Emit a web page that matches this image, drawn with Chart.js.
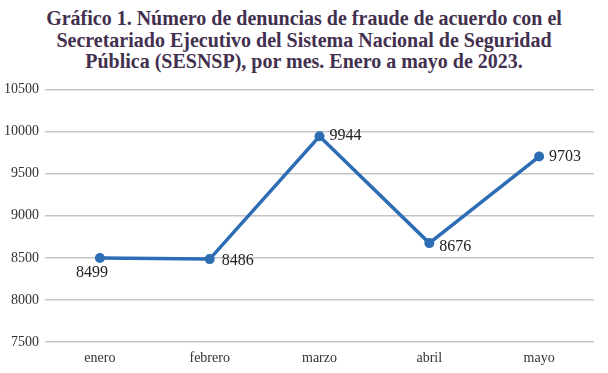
<!DOCTYPE html>
<html>
<head>
<meta charset="utf-8">
<script src="https://cdn.jsdelivr.net/npm/chart.js@4.4.1/dist/chart.umd.min.js"></script>
<style>
  html, body { margin: 0; padding: 0; background: #fff; }
  #title {
    width: 608px; height: 75px; box-sizing: border-box; padding-top: 8px;
    font: bold 20px/21.5px "Liberation Serif", "DejaVu Serif", serif;
    color: #43304f; text-align: center;
  }
  #wrap { width: 608px; height: 298px; position: relative; }
</style>
</head>
<body>
<div id="title"></div>
<div id="wrap"><canvas id="c"></canvas></div>
<script>
(function () {
    'use strict';

    var months = ['enero', 'febrero', 'marzo', 'abril', 'mayo'];
    var denuncias = [8499, 8486, 9944, 8676, 9703];
    var yTicks = [7500, 8000, 8500, 9000, 9500, 10000, 10500];
    var titleLines = [
        'Gráfico 1. Número de denuncias de fraude de acuerdo con el',
        'Secretariado Ejecutivo del Sistema Nacional de Seguridad',
        'Pública (SESNSP), por mes. Enero a mayo de 2023.'
    ];

    // where each value label sits relative to its point
    var labelSpots = [
        { dx: -8, dy: 15, align: 'center' },
        { dx: 12, dy: 2, align: 'left' },
        { dx: 10, dy: 0, align: 'left' },
        { dx: 10, dy: 4, align: 'left' },
        { dx: 10, dy: 0, align: 'left' }
    ];

    var serif = '"Liberation Serif", "DejaVu Serif", serif';

    var titleEl = document.getElementById('title');
    titleLines.forEach(function (line) {
        var d = document.createElement('div');
        d.textContent = line;
        titleEl.appendChild(d);
    });

    var valueLabels = {
        id: 'valueLabels',
        afterDatasetsDraw: function (chart) {
            var ctx = chart.ctx;
            var meta = chart.getDatasetMeta(0);
            ctx.save();
            ctx.font = '16px ' + serif;
            ctx.fillStyle = '#222';
            ctx.textBaseline = 'middle';
            meta.data.forEach(function (pt, i) {
                var s = labelSpots[i];
                ctx.textAlign = s.align;
                ctx.fillText(String(denuncias[i]), pt.x + s.dx, pt.y + s.dy);
            });
            ctx.restore();
        }
    };

    new Chart(document.getElementById('c'), {
        type: 'line',
        data: {
            labels: months,
            datasets: [{
                data: denuncias,
                borderColor: '#2c6db4',
                backgroundColor: '#2c6db4',
                borderWidth: 3.5,
                pointRadius: 5,
                pointBackgroundColor: '#2c6db4',
                pointBorderWidth: 0,
                tension: 0
            }]
        },
        options: {
            responsive: true,
            maintainAspectRatio: false,
            animation: false,
            layout: { padding: { left: 0, right: 14, top: 10, bottom: 6 } },
            plugins: {
                legend: { display: false },
                tooltip: { enabled: false }
            },
            scales: {
                x: {
                    offset: true,
                    grid: { display: false },
                    border: { display: false },
                    ticks: { color: '#333', font: { family: serif, size: 14 }, padding: 0 }
                },
                y: {
                    min: 7500,
                    max: 10500,
                    afterBuildTicks: function (axis) {
                        axis.ticks = yTicks.map(function (v) { return { value: v }; });
                    },
                    afterFit: function (axis) { axis.width = 45; },
                    grid: { color: '#c4c4c4', lineWidth: 1.5, drawTicks: false },
                    border: { display: false },
                    ticks: {
                        color: '#333',
                        font: { family: serif, size: 14 },
                        padding: 6,
                        callback: function (v) { return String(v); }
                    }
                }
            }
        },
        plugins: [valueLabels]
    });
})();
</script>
</body>
</html>
